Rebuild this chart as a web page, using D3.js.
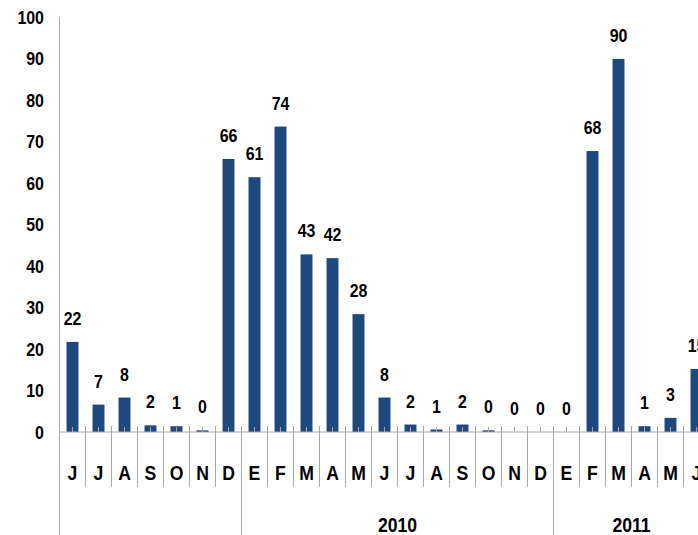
<!DOCTYPE html>
<html>
<head>
<meta charset="utf-8">
<script src="https://cdn.jsdelivr.net/npm/d3@7"></script>
<style>
  html, body { margin: 0; padding: 0; background: #fff; overflow: hidden; }
  svg text { font-family: "Liberation Sans", Arial, sans-serif; font-weight: bold; fill: #000; }
</style>
</head>
<body>
<svg id="chart"></svg>
<script>
// month initials, Jun 2009 .. Jun 2011
const months = ["J", "J", "A", "S", "O", "N", "D",
  "E", "F", "M", "A", "M", "J", "J", "A", "S", "O", "N", "D",
  "E", "F", "M", "A", "M", "J"];
const values = [21.7, 6.6, 8.3, 1.6, 1.4, 0.4, 65.8,
  61.4, 73.6, 42.8, 41.9, 28.4, 8.3, 1.8, 0.6, 1.8, 0.4, 0, 0,
  0, 67.7, 89.9, 1.4, 3.4, 15.2];
const yearLabels = ["", "2010", "2011"];
const yearLengths = [7, 12, 6];
const yTicks = [0, 10, 20, 30, 40, 50, 60, 70, 80, 90, 100];

const width = 698, height = 535;
const plotLeft = 59.5, plotTop = 17, baseline = 432;
const step = 26;
const narrow = 0.84; // squeeze Arial towards a Calibri-like width

const svg = d3.select("#chart").attr("width", width).attr("height", height);

const x = d3.scaleBand()
  .domain(d3.range(months.length))
  .range([plotLeft, plotLeft + months.length * step])
  .paddingInner(0.54)
  .paddingOuter(0.27);

const y = d3.scaleLinear().domain([0, 100]).range([baseline, plotTop]);

const place = (px, py) => `translate(${px},${py}) scale(${narrow},1)`;

// y axis labels (no tick marks)
svg.append("g")
  .selectAll("text")
  .data(yTicks)
  .join("text")
  .attr("transform", d => place(44, y(d)))
  .attr("dy", "0.36em")
  .attr("text-anchor", "end")
  .attr("font-size", 19)
  .text(d => d);

// bars
svg.append("g")
  .selectAll("rect")
  .data(values)
  .join("rect")
  .attr("x", (d, i) => x(i))
  .attr("y", d => y(d))
  .attr("width", x.bandwidth())
  .attr("height", d => baseline - y(d))
  .attr("fill", "#1f497d");

// value labels
svg.append("g")
  .selectAll("text")
  .data(values)
  .join("text")
  .attr("transform", (d, i) => place(x(i) + x.bandwidth() / 2, y(d) - 17))
  .attr("text-anchor", "middle")
  .attr("font-size", 19)
  .text(d => Math.round(d));

const grey = "#a6a6a6";

// small ticks at category centres
svg.append("g")
  .selectAll("line")
  .data(months)
  .join("line")
  .attr("x1", (d, i) => x(i) + x.bandwidth() / 2)
  .attr("x2", (d, i) => x(i) + x.bandwidth() / 2)
  .attr("y1", baseline - 5)
  .attr("y2", baseline)
  .attr("stroke", grey);

// category separators, longer at year boundaries
const groupStarts = d3.cumsum([0, ...yearLengths]);
svg.append("g")
  .selectAll("line")
  .data(d3.range(months.length + 1))
  .join("line")
  .attr("x1", i => plotLeft + i * step)
  .attr("x2", i => plotLeft + i * step)
  .attr("y1", baseline - 6)
  .attr("y2", i => groupStarts.includes(i) ? height : baseline + 55)
  .attr("stroke", grey);

// axes lines
svg.append("line")
  .attr("x1", plotLeft).attr("x2", plotLeft)
  .attr("y1", plotTop).attr("y2", height)
  .attr("stroke", grey);
svg.append("line")
  .attr("x1", plotLeft).attr("x2", width)
  .attr("y1", baseline).attr("y2", baseline)
  .attr("stroke", grey);

// month labels
svg.append("g")
  .selectAll("text")
  .data(months)
  .join("text")
  .attr("transform", (d, i) => place(x(i) + x.bandwidth() / 2, 472))
  .attr("dy", "0.36em")
  .attr("text-anchor", "middle")
  .attr("font-size", 21)
  .text(d => d);

// year labels centred under their group
svg.append("g")
  .selectAll("text")
  .data(yearLabels)
  .join("text")
  .attr("transform", (d, i) => place(plotLeft + (groupStarts[i] + yearLengths[i] / 2) * step, 524))
  .attr("dy", "0.36em")
  .attr("text-anchor", "middle")
  .attr("font-size", 21)
  .text(d => d);
</script>
</body>
</html>
